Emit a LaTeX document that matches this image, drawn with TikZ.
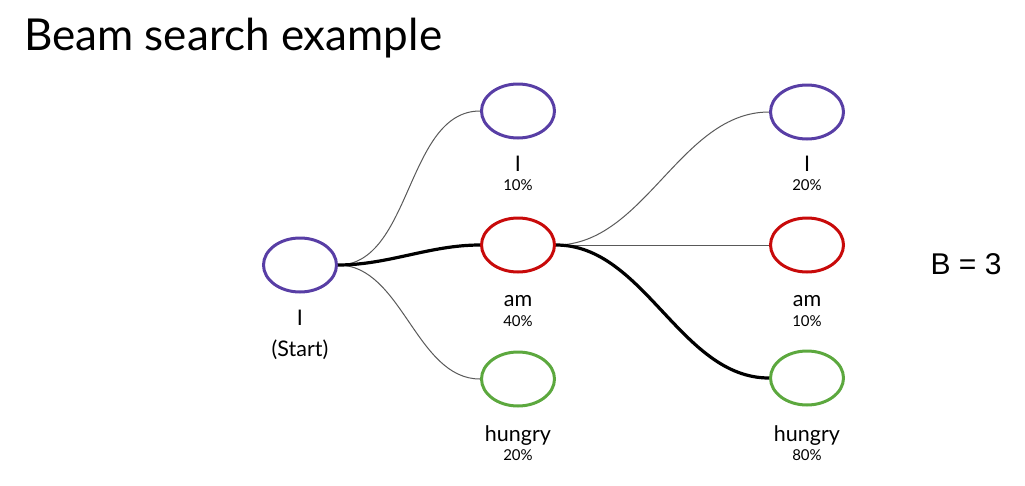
\documentclass[tikz,border=0pt]{standalone}
\usepackage{fontspec}
\usetikzlibrary{shapes.geometric}
\setmainfont{Lato}
\newfontfamily\bfont{Liberation Sans}
\definecolor{npurple}{RGB}{88,62,165}
\definecolor{nred}{RGB}{200,10,10}
\definecolor{ngreen}{RGB}{92,168,62}
\begin{document}
\begin{tikzpicture}[x=1pt,y=-1pt,
  state/.style={ellipse,draw,line width=3pt,minimum width=73pt,minimum height=54pt,inner sep=0pt},
  pstate/.style={state,draw=npurple},
  rstate/.style={state,draw=nred},
  gstate/.style={state,draw=ngreen},
  word/.style={font=\fontsize{21.5}{24}\selectfont,inner sep=0pt},
  pct/.style={font=\fontsize{15}{17}\selectfont,inner sep=0pt},
  thin/.style={draw=black!65,line width=1pt},
  thick/.style={draw=black,line width=3.2pt}]
\useasboundingbox (0,0) rectangle (1025,485);
\node[anchor=base west,font=\fontsize{44}{48}\selectfont,inner sep=0pt] (title) at (24,50) {Beam search example};

\node[pstate] (s) at (300,265) {};
\node[pstate] (m1) at (518,111) {};
\node[rstate] (m2) at (518,245) {};
\node[gstate] (m3) at (518,379) {};
\node[pstate] (r1) at (807,112) {};
\node[rstate] (r2) at (807,245) {};
\node[gstate] (r3) at (807,378) {};

\node[word] (sl) at (300,318) {I};
\node[word] (sl2) at (300,350) {(Start)};
\node[word] (m1l) at (518,164) {I};
\node[pct] (m1p) at (518,185) {10\%};
\node[word] (m2l) at (518,301) {am};
\node[pct] (m2p) at (518,321) {40\%};
\node[word] (m3l) at (518,435.5) {hungry};
\node[pct] (m3p) at (518,455.5) {20\%};
\node[word] (r1l) at (807,164) {I};
\node[pct] (r1p) at (807,185) {20\%};
\node[word] (r2l) at (807,301) {am};
\node[pct] (r2p) at (807,321) {10\%};
\node[word] (r3l) at (807,435.5) {hungry};
\node[pct] (r3p) at (807,455.5) {80\%};

\node[font=\bfont\fontsize{30}{34}\selectfont,inner sep=0pt] (b) at (966,264) {B = 3};

\draw[thin] (s.east) to[out=0,in=180,looseness=0.9] (m1.west);
\draw[thin] (s.east) to[out=0,in=180,looseness=0.9] (m3.west);
\draw[thick] (s.east) to[out=0,in=180,looseness=0.9] (m2.west);
\draw[thin] (m2.east) to[out=0,in=180,looseness=0.9] (r1.west);
\draw[thin] (m2.east) -- (r2.west);
\draw[thick] (m2.east) to[out=0,in=180,looseness=0.9] (r3.west);
\end{tikzpicture}
\end{document}
